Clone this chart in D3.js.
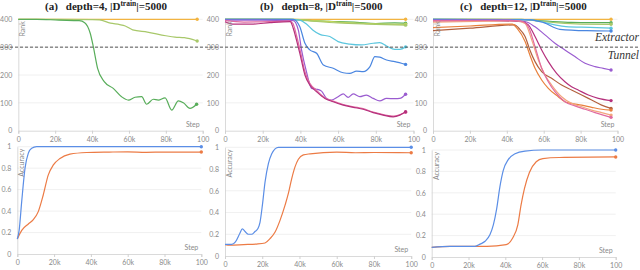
<!DOCTYPE html>
<html><head><meta charset="utf-8">
<script src="https://cdn.jsdelivr.net/npm/d3@7"></script>
<style>body{margin:0;background:#fff}svg{display:block}</style>
</head><body>
<svg id="c" width="640" height="270"></svg>
<script>
// ---------- data ----------
const stepTicks = [0, 20, 40, 60, 80, 100];
const stepTickLabels = ["0", "20k", "40k", "60k", "80k", "100"];
const rankTicks = [0, 100, 200, 300, 400];
const accTicks = [0, 0.2, 0.4, 0.6, 0.8, 1];
const accTickLabels = ["0", "0.2", "0.4", "0.6", "0.8", "1"];
const titles = ["(a)", "(b)", "(c)"];
const titleDepths = ["depth=4, |D", "depth=8, |D", "depth=12, |D"];
const tunnelThreshold = 300;

// panel (a) rank
const aYellow = [[0,400],[97,400]];
const aLightGreen = [[0,400],[20,400],[40,399],[44,398],[50,386],[55,381],[58,376],[62,362],[70,354],[80,341],[85,336],[90,334],[97,322]];
const aGreen = [[0,400],[10,400],[22,397],[33,395],[36,388],[39,350],[40.7,301],[43,224],[46.6,176],[51.5,152],[56,122],[59.7,110],[63.3,120],[66.9,122],[69.6,95],[73.2,113],[75.9,110],[79.6,118],[83.2,74],[86.8,107],[89.5,100],[93.1,80],[96.7,95]];
// panel (a) accuracy
const aAccBlue = [[0,0.14],[1,0.22],[2.4,0.49],[4.2,0.8],[6,0.94],[7.8,0.985],[10.5,1],[100,1]];
const aAccOrange = [[0,0.14],[2.4,0.22],[6,0.28],[8.7,0.32],[11.4,0.395],[14.1,0.55],[16.8,0.735],[19.6,0.83],[23.2,0.89],[28.6,0.93],[37.7,0.946],[50,0.95],[60,0.952],[70,0.948],[80,0.95],[100,0.95]];

// panel (b) rank
const bYellow = [[0,400],[95.8,400]];
const bGreen = [[0,400],[35,400],[42,397],[55,393],[70,389],[80,385],[90,387],[95.8,386]];
const bLightGreen = [[0,400],[35,399],[45,394],[60,387],[75,383],[85,381],[95.8,379]];
const bYellowGreen = [[0,400],[37,400],[47,395],[60,390],[75,385],[85,383],[95.8,382]];
const bCyan = [[0,400],[34.4,400],[39.7,397],[43.2,383],[46.7,361],[50.3,346],[55.6,338],[60,320],[66.2,311],[72.4,308],[78.6,314],[82.1,316],[85.7,304],[90.1,292],[92.7,292],[95.8,301]];
const bBlue = [[0,400],[36.2,400],[39.7,373],[42.4,314],[45,290],[48.6,278],[52.2,236],[57.4,224],[62.7,208],[66.2,206],[69.8,214],[73.3,212],[76.9,230],[79.5,266],[82.1,264],[85.7,254],[90.1,248],[95.8,238]];
const bPurple = [[0,397],[20,397],[36.2,395],[38.9,361],[40.6,290],[43.2,212],[45.9,152],[48.6,149],[51.2,142],[53.9,116],[56.5,110],[60,122],[62.7,132],[65.3,120],[68,132],[71.5,122],[75,128],[78.6,116],[82.1,107],[85.7,116],[90.1,115],[92.7,116],[95.8,131]];
const bPink = [[0,395],[10,390],[25,392],[34,394],[36,385],[38,340],[40,285],[42.5,210],[45,170],[48.6,145],[53,118],[57.4,106],[62.7,94],[68,86],[73.3,79],[78.6,67],[83.9,58],[89.2,52],[92.7,57],[95.8,66]];
const bMagenta = [[0,391],[4,383],[15,383],[23.8,388],[34.6,392],[36.2,368],[37.9,326],[39.7,278],[42.4,200],[45,164],[48.6,140],[53,116],[57.4,104],[62.7,92],[68,84],[73.3,77],[78.6,65],[83.9,56],[89.2,50],[92.7,56],[95.8,68]];
// panel (b) accuracy
const bAccBlue = [[0,0.107],[3.6,0.107],[5.6,0.13],[8,0.21],[9.3,0.25],[10.8,0.225],[12.5,0.2],[14.3,0.2],[16.1,0.225],[17.6,0.25],[18.8,0.31],[20.1,0.47],[21.5,0.68],[23.3,0.85],[25.1,0.94],[26.9,0.985],[28.7,1],[100,1]];
const bAccOrange = [[0,0.105],[2.7,0.1],[10,0.105],[17,0.11],[21.5,0.12],[24.2,0.16],[26.9,0.22],[29.6,0.33],[32.3,0.47],[34.1,0.58],[35.8,0.71],[37.6,0.82],[39.4,0.89],[42.1,0.93],[45.7,0.94],[60,0.955],[70,0.95],[80,0.952],[100,0.95]];

// panel (c) rank
const cYellow = [[0,400],[96.5,400]];
const cGreen = [[0,400],[48,400],[55,396],[65,392],[75,389],[85,388],[96.5,388]];
const cLightGreen = [[0,400],[50,399],[58,393],[68,387],[80,383],[96.5,382]];
const cCyan = [[0,400],[52,399],[58,392],[66,380],[72,374],[85,371],[96.5,368]];
const cBlue = [[0,400],[53,398],[60,388],[68.8,364],[83.3,359],[96.5,358]];
const cPurple = [[0,397],[40,397],[49.9,392],[55.3,373],[60.7,344],[66.1,314],[71.5,290],[76.9,266],[82.4,242],[87.8,230],[92.3,224],[96.5,218]];
const cMagenta = [[0,394],[30,395],[48.1,392],[51.7,380],[55.3,338],[58.9,290],[62.5,248],[67,206],[71.5,176],[75.1,158],[78.7,146],[84.2,128],[89.6,116],[96.5,108]];
const cBrown = [[0,359],[20,368],[44.3,380],[46.5,368],[49.9,338],[52.5,290],[55.3,248],[58.9,212],[64.3,188],[69.7,164],[75.1,146],[80.6,128],[86,110],[91.4,92],[96.5,80]];
const cOrange = [[0,370],[20,376],[43,383],[45.5,368],[49.9,320],[52.5,272],[55.3,224],[58.9,182],[62.5,152],[67.9,122],[71.5,104],[75.1,98],[80.6,92],[86,84],[91.4,77],[96.5,74]];
const cPeach = [[0,390],[30,393],[45,395],[49.9,385],[53.5,326],[57.1,254],[60.7,200],[64.3,164],[69.7,122],[75.1,98],[80.6,86],[86,74],[91.4,65],[96.5,56]];
const cPink = [[0,395],[40,396],[48,393],[51.7,373],[55.3,302],[58.9,224],[62.5,176],[66.1,140],[71.5,104],[76.9,89],[82.4,77],[87.8,65],[92.3,56],[96.5,48]];
// panel (c) accuracy
const cAccBlue = [[0,0.09],[10,0.1],[23.5,0.1],[26.3,0.12],[29,0.147],[31.7,0.21],[33.5,0.3],[35.3,0.45],[37.1,0.66],[38.9,0.81],[41.6,0.91],[45.3,0.965],[50.7,0.99],[60,1],[100,1]];
const cAccOrange = [[0,0.09],[10,0.1],[30,0.1],[40.5,0.115],[44.1,0.18],[46.8,0.3],[48.6,0.49],[50.4,0.64],[53.1,0.79],[56.8,0.89],[60.4,0.92],[69.4,0.93],[100,0.935]];

// ---------- styles ----------
const col = {
  yellow:"#f2b441", lightGreen:"#a8c86a", green:"#58ad5a", yellowGreen:"#c4d65a",
  cyan:"#5cc6de", blue:"#4a86e0", purple:"#9a5cd0", magenta:"#b5307c", pink:"#e06aa0",
  brown:"#b2603e", orange:"#e8803c", peach:"#f3a57e", accBlue:"#5b8ee6", accOrange:"#ec7b45"
};
const tickColor = "#8a8a8a", gridColor = "#ececec", axisColor = "#d0d0d0";
const tickFont = "Lato, 'Open Sans', sans-serif";

const svg = d3.select("#c");

const topPanels = [
  {x0:18.3, x1:202.7, series:[[aYellow,col.yellow],[aLightGreen,col.lightGreen],[aGreen,col.green]]},
  {x0:225, x1:413.5, series:[[bYellow,col.yellow],[bGreen,col.green],[bYellowGreen,col.yellowGreen],[bLightGreen,col.lightGreen],[bCyan,col.cyan],[bBlue,col.blue],[bPurple,col.purple],[bPink,col.pink],[bMagenta,col.magenta]]},
  {x0:433, x1:617.5, series:[[cYellow,col.yellow],[cGreen,col.green],[cLightGreen,col.lightGreen],[cCyan,col.cyan],[cBlue,col.blue],[cPurple,col.purple],[cMagenta,col.magenta],[cBrown,col.brown],[cOrange,col.orange],[cPeach,col.peach],[cPink,col.pink]]}
];
const botPanels = [
  {x0:17.3, x1:201.3, y0:254, y1:146.7, series:[[aAccOrange,col.accOrange],[aAccBlue,col.accBlue]]},
  {x0:225, x1:411.2, y0:256, y1:147.3, series:[[bAccOrange,col.accOrange],[bAccBlue,col.accBlue]]},
  {x0:431.7, x1:615.7, y0:257, y1:150, series:[[cAccOrange,col.accOrange],[cAccBlue,col.accBlue]]}
];
const titleCenters = [45, 260, 460];

function drawPanel(p, yDomain, yTicks, yLabels, yr, axisTitle) {
  const g = svg.append("g");
  const x = d3.scaleLinear().domain([0,100]).range([p.x0, p.x1]);
  const y = d3.scaleLinear().domain(yDomain).range(yr);
  g.selectAll(".grid").data(yTicks.slice(1)).join("line")
    .attr("x1", p.x0).attr("x2", p.x1).attr("y1", d=>y(d)).attr("y2", d=>y(d))
    .attr("stroke", gridColor).attr("stroke-width", 0.8);
  const ya = d3.axisLeft(y).tickValues(yTicks).tickSize(0).tickPadding(6)
    .tickFormat((d,i)=>yLabels[i]);
  g.append("g").attr("transform",`translate(${p.x0},0)`).call(ya)
    .call(s=>{s.select(".domain").attr("stroke",axisColor).attr("stroke-width",0.8);
      s.selectAll("text").attr("fill",tickColor).attr("font-size",7).attr("font-family",tickFont);});
  const xa = d3.axisBottom(x).tickValues(stepTicks).tickSize(3).tickPadding(3)
    .tickFormat((d,i)=>stepTickLabels[i]);
  g.append("g").attr("transform",`translate(0,${y(yDomain[0])})`).call(xa)
    .call(s=>{s.select(".domain").attr("stroke",axisColor).attr("stroke-width",0.8);
      s.selectAll("line").attr("stroke",axisColor);
      s.selectAll("text").attr("fill",tickColor).attr("font-size",7).attr("font-family",tickFont);});
  const line = d3.line().x(d=>x(d[0])).y(d=>y(d[1])).curve(d3.curveMonotoneX);
  p.series.forEach(([data,c])=>{
    g.append("path").datum(data).attr("d",line).attr("fill","none")
      .attr("stroke",c).attr("stroke-width",1.2);
    const last = data[data.length-1];
    g.append("circle").attr("cx",x(last[0])).attr("cy",y(last[1])).attr("r",1.7).attr("fill",c);
  });
  g.append("text").attr("transform",`translate(${p.x0+7},${yr[1]+2}) rotate(-90)`)
    .attr("text-anchor","end")
    .attr("font-size",7).attr("fill",tickColor).attr("font-family",tickFont).text(axisTitle);
  g.append("text").attr("x",p.x1-3).attr("y",y(yDomain[0])-4).attr("text-anchor","end")
    .attr("font-size",7).attr("fill",tickColor).attr("font-family",tickFont).text("Step");
  return {x,y};
}

let yRank;
topPanels.forEach(p=>{
  yRank = drawPanel(p,[0,400],rankTicks,rankTicks.map(String),[130.7,19.3],"Rank").y;
});
botPanels.forEach(p=>{
  drawPanel(p,[0,1],accTicks,accTickLabels,[p.y0,p.y1],"Accuracy");
});

svg.append("line").attr("x1",0).attr("x2",640)
  .attr("y1",yRank(tunnelThreshold)).attr("y2",yRank(tunnelThreshold))
  .attr("stroke","#555").attr("stroke-width",1).attr("stroke-dasharray","3,2");

titles.forEach((t,i)=>{
  const tx = svg.append("text").attr("x",titleCenters[i]).attr("y",9.5)
    .attr("font-family","'Liberation Serif', serif").attr("font-weight","bold")
    .attr("font-size",11).attr("fill","#222");
  tx.append("tspan").text(t);
  tx.append("tspan").attr("dx",8).text(titleDepths[i]);
  tx.append("tspan").attr("dy",-4).attr("font-size",7.5).text("train");
  tx.append("tspan").attr("dy",4).text("|=5000");
});

svg.append("text").attr("x",639).attr("y",41).attr("text-anchor","end")
  .attr("font-family","'Liberation Serif', serif").attr("font-style","italic")
  .attr("font-size",11.5).attr("fill","#333").text("Extractor");
svg.append("text").attr("x",639).attr("y",59).attr("text-anchor","end")
  .attr("font-family","'Liberation Serif', serif").attr("font-style","italic")
  .attr("font-size",11.5).attr("fill","#333").text("Tunnel");
</script>
</body></html>
